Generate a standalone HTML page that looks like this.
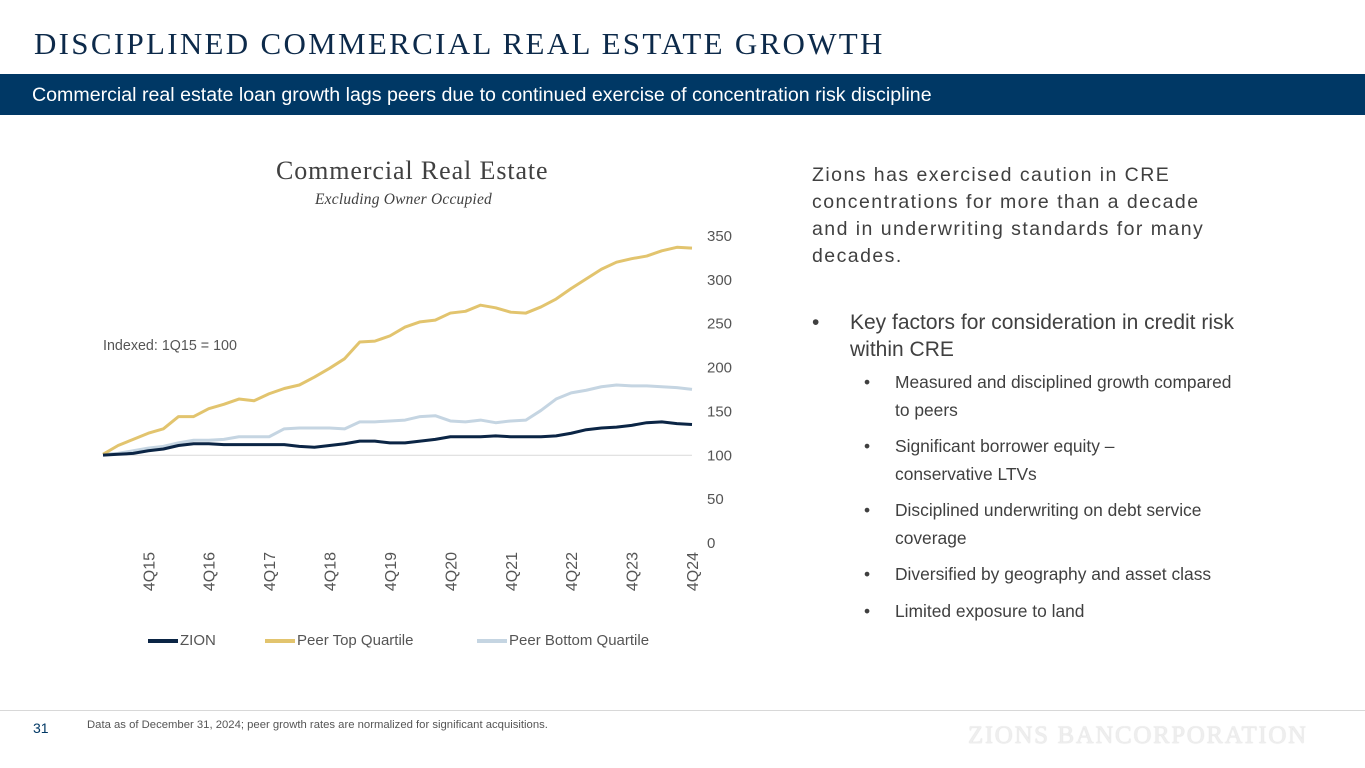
<!DOCTYPE html>
<html><head><meta charset="utf-8"><style>
body{margin:0;width:1365px;height:768px;overflow:hidden;background:#fff;font-family:"Liberation Sans",sans-serif;position:relative}
.a{position:absolute;white-space:nowrap}
.t{color:#404040}
</style></head><body>
<div class="a" style="left:34px;top:26px;font-family:'Liberation Serif',serif;font-size:31px;letter-spacing:2.3px;color:#0d2a4a">DISCIPLINED COMMERCIAL REAL ESTATE GROWTH</div>
<div class="a" style="left:0;top:74px;width:1365px;height:41px;background:#003865"></div>
<div class="a" style="left:32px;top:84px;font-size:19.6px;color:#fff">Commercial real estate loan growth lags peers due to continued exercise of concentration risk discipline</div>

<div class="a" style="left:276px;top:156px;font-family:'Liberation Serif',serif;font-size:26px;letter-spacing:0.9px;color:#404040">Commercial Real Estate</div>
<div class="a" style="left:315px;top:191px;font-family:'Liberation Serif',serif;font-style:italic;font-size:15.5px;letter-spacing:0.2px;color:#404040">Excluding Owner Occupied</div>
<div class="a t" style="left:103px;top:338px;font-size:14.3px;color:#555">Indexed: 1Q15 = 100</div>

<svg class="a" style="left:0;top:0" width="1365" height="768">
<g id="axes"></g><g id="lines"></g>
</svg>

<div class="a" style="left:148px;top:632px;font-size:15px;color:#555">
<span class="a" style="left:0"><span style="display:inline-block;width:30px;height:4px;background:#0b2545;vertical-align:middle;margin-right:2px"></span>ZION</span>
<span class="a" style="left:117px"><span style="display:inline-block;width:30px;height:4px;background:#e2c46e;vertical-align:middle;margin-right:2px"></span>Peer Top Quartile</span>
<span class="a" style="left:329px"><span style="display:inline-block;width:30px;height:4px;background:#c5d5e2;vertical-align:middle;margin-right:2px"></span>Peer Bottom Quartile</span>
</div>

<div class="a t" style="left:812px;top:162px;font-size:19.5px;letter-spacing:1.45px;line-height:27px">Zions has exercised caution in CRE<br>concentrations for more than a decade<br>and in underwriting standards for many<br>decades.</div>
<div class="a t" style="left:812px;top:309px;font-size:21px;line-height:27px"><span style="position:absolute;left:0">•</span><span style="position:absolute;left:38px">Key factors for consideration in credit risk<br>within CRE</span></div>
<div>
<div class="a t" style="left:864px;top:368px;font-size:17.4px;line-height:28px"><span style="position:absolute;left:0">•</span><span style="position:absolute;left:31px">Measured and disciplined growth compared<br>to peers</span></div>
<div class="a t" style="left:864px;top:432px;font-size:17.4px;line-height:28px"><span style="position:absolute;left:0">•</span><span style="position:absolute;left:31px">Significant borrower equity –<br>conservative LTVs</span></div>
<div class="a t" style="left:864px;top:496px;font-size:17.4px;line-height:28px"><span style="position:absolute;left:0">•</span><span style="position:absolute;left:31px">Disciplined underwriting on debt service<br>coverage</span></div>
<div class="a t" style="left:864px;top:560px;font-size:17.4px;line-height:28px"><span style="position:absolute;left:0">•</span><span style="position:absolute;left:31px">Diversified by geography and asset class</span></div>
<div class="a t" style="left:864px;top:597px;font-size:17.4px;line-height:28px"><span style="position:absolute;left:0">•</span><span style="position:absolute;left:31px">Limited exposure to land</span></div>
</div>

<div class="a" style="left:0;top:710px;width:1365px;height:1px;background:#d8d8d8"></div>
<div class="a" style="left:33px;top:720px;font-size:14px;color:#003865">31</div>
<div class="a" style="left:87px;top:719px;font-size:11.3px;color:#555">Data as of December 31, 2024; peer growth rates are normalized for significant acquisitions.</div>
<div class="a" style="left:968px;top:722px;font-family:'Liberation Serif',serif;font-size:25px;color:#eeeeee;letter-spacing:1.6px;text-shadow:0 0 1px #c8c8c8">ZIONS BANCORPORATION</div>

<script>
const zion=[99,100,101,104,106,110,112,112,111,111,111,111,111,109,108,110,112,115,115,113,113,115,117,120,120,120,121,120,120,120,121,124,128,130,131,133,136,137,135,134];
const topQ=[100,110,117,124,129,143,143,152,157,163,161,169,175,179,188,198,209,228,229,235,245,251,253,261,263,270,267,262,261,268,277,289,300,311,319,323,326,332,336,335];
const botQ=[100,101,104,107,109,113,116,116,117,120,120,120,129,130,130,130,129,137,137,138,139,143,144,138,137,139,136,138,139,150,163,170,173,177,179,178,178,177,176,174];
const yTicks=[0,50,100,150,200,250,300,350];
const xLabels=["4Q15","4Q16","4Q17","4Q18","4Q19","4Q20","4Q21","4Q22","4Q23","4Q24"];
const xLabelIdx=[3,7,11,15,19,23,27,31,35,39];
const NS="http://www.w3.org/2000/svg";
function xs(i){return 103+i*(692-103)/39;}
function ys(v){return 542-v*(542-235)/350;}
const ax=document.getElementById('axes');
yTicks.forEach(v=>{const t=document.createElementNS(NS,'text');


t.setAttribute('x',707);t.setAttribute('y',ys(v)+6);t.setAttribute('font-size','15');t.setAttribute('fill','#555');t.setAttribute('font-family','Liberation Sans, sans-serif');t.textContent=v;ax.appendChild(t);});
const bl=document.createElementNS(NS,'line');


bl.setAttribute('x1',103);bl.setAttribute('x2',692);bl.setAttribute('y1',ys(100)+1);bl.setAttribute('y2',ys(100)+1);bl.setAttribute('stroke','#d9d9d9');ax.appendChild(bl);
xLabels.forEach((l,k)=>{const t=document.createElementNS(NS,'text');


const x=xs(xLabelIdx[k])+6,y=552;t.setAttribute('transform','translate('+x+','+y+') rotate(-90)');t.setAttribute('text-anchor','end');t.setAttribute('font-size','16');t.setAttribute('fill','#555');t.setAttribute('font-family','Liberation Sans, sans-serif');t.textContent=l;ax.appendChild(t);});
const lg=document.getElementById('lines');
[[botQ,'#c5d5e2','line-peer-bottom'],[topQ,'#e2c46e','line-peer-top'],[zion,'#0b2545','line-zion']].forEach(s=>{const p=document.createElementNS(NS,'polyline');


p.setAttribute('points',s[0].map((v,i)=>xs(i)+','+ys(v)).join(' '));p.setAttribute('fill','none');p.setAttribute('stroke',s[1]);p.setAttribute('stroke-width','3');p.setAttribute('stroke-linejoin','round');lg.appendChild(p);});
</script>
</body></html>
